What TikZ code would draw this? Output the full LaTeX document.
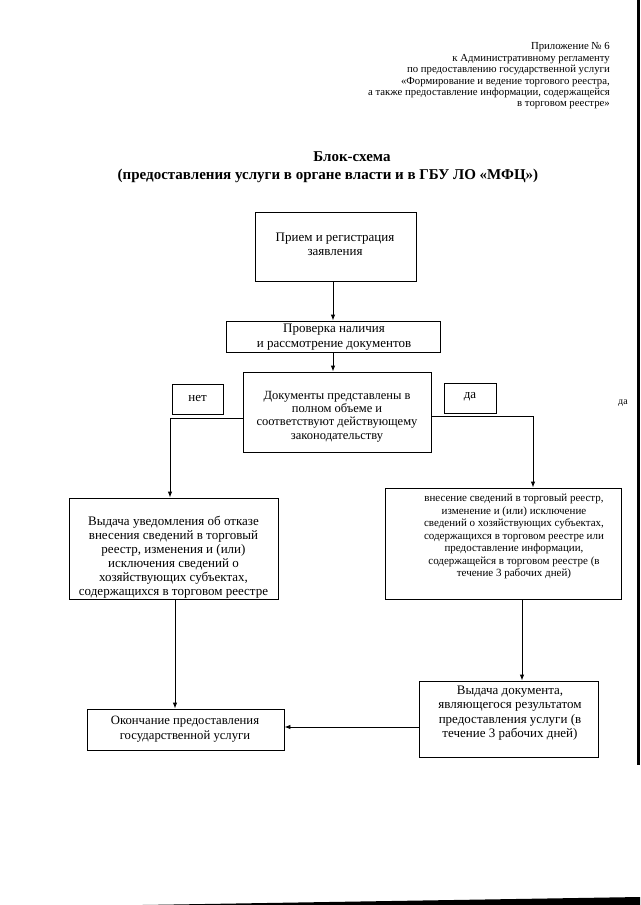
\documentclass[tikz,border=0pt]{standalone}
\usepackage{fontspec}
\setmainfont{Liberation Serif}
\usetikzlibrary{fit,arrows.meta}
\begin{document}
\begin{tikzpicture}[x=1pt,y=-1pt,
  box/.style={draw, line width=0.9pt, inner sep=0pt},
  txt/.style={align=center, inner sep=0pt, font=\fontsize{13}{14}\selectfont},
  arr/.style={line width=0.9pt, -{Latex[length=6pt,width=4.5pt]}},
  ln/.style={line width=0.9pt}]
\useasboundingbox (0,0) rectangle (640,905);
% scan artefacts
\fill[black] (636.5,0) rectangle (640,765);
\fill[black] (142,905) -- (640,897) -- (640,905) -- cycle;
% header
\node[anchor=north east, align=right, inner sep=0pt, font=\fontsize{10.75}{11.4}\selectfont] (hdr) at (610,42.5)
 {Приложение № 6\\к Административному регламенту\\по предоставлению государственной услуги\\«Формирование и ведение торгового реестра,\\а также предоставление информации, содержащейся\\в торговом реестре»};
% title
\node[align=center, inner sep=0pt, font=\bfseries\fontsize{15}{18.5}\selectfont] (title) at (328,167)
 {\hspace*{48pt}Блок-схема\\(предоставления услуги в органе власти и в ГБУ ЛО «МФЦ»)};
% boxes
\node[box, fit={(255,212) (416,281)}] (b1) {};
\node[txt] (t1) at (335,244.5) {Прием и регистрация\\заявления};
\node[box, fit={(226,321) (440,352)}] (b2) {};
\node[txt, font=\fontsize{13}{15}\selectfont] (t2) at (334,337.5) {Проверка наличия\\и рассмотрение документов};
\node[box, fit={(243,372) (431,452)}] (b3) {};
\node[txt, font=\fontsize{12.5}{13.4}\selectfont] (t3) at (337,416.5) {Документы представлены в\\полном объеме и\\соответствуют действующему\\законодательству};
\node[box, fit={(172,384) (223,414)}] (net) {};
\node[txt] (tnet) at (197.5,398) {нет};
\node[box, fit={(444,383) (496,413)}] (da) {};
\node[txt] (tda) at (470,397) {да};
\node[txt, font=\fontsize{10}{12}\selectfont] (da2) at (623,403) {да};
\node[box, fit={(69,498) (278,599)}] (L) {};
\node[txt, font=\fontsize{13}{14}\selectfont] (tL) at (173.5,557) {Выдача уведомления об отказе\\внесения сведений в торговый\\реестр, изменения и (или)\\исключения сведений о\\хозяйствующих субъектах,\\содержащихся в торговом реестре};
\node[box, fit={(385,488) (621,599)}] (R) {};
\node[txt, font=\fontsize{11}{12.5}\selectfont] (tR) at (514,536.5) {внесение сведений в торговый реестр,\\изменение и (или) исключение\\сведений о хозяйствующих субъектах,\\содержащихся в торговом реестре или\\предоставление информации,\\содержащейся в торговом реестре (в\\течение 3 рабочих дней)};
\node[box, fit={(87,709) (284,750)}] (E) {};
\node[txt, font=\fontsize{12.7}{15}\selectfont] (tE) at (185,729.5) {Окончание предоставления\\государственной услуги};
\node[box, fit={(419,681) (598,757)}] (O) {};
\node[txt, font=\fontsize{13}{14.3}\selectfont] (tO) at (510,713) {Выдача документа,\\являющегося результатом\\предоставления услуги (в\\течение 3 рабочих дней)};
% connectors
\coordinate (c1) at (333,0);
\draw[arr] (b1.south -| c1) -- (b2.north -| c1);
\draw[arr] (b2.south -| c1) -- (b3.north -| c1);
\coordinate (lc) at (170,418);
\draw[arr] (b3.west |- lc) -- (lc) -- (lc |- L.north);
\coordinate (rc) at (533,416);
\draw[arr] (b3.east |- rc) -- (rc) -- (rc |- R.north);
\coordinate (c2) at (175,0);
\draw[arr] (L.south -| c2) -- (E.north -| c2);
\coordinate (c3) at (522,0);
\draw[arr] (R.south -| c3) -- (O.north -| c3);
\coordinate (hy) at (0,727);
\draw[arr] (O.west |- hy) -- (E.east |- hy);
\end{tikzpicture}
\end{document}
